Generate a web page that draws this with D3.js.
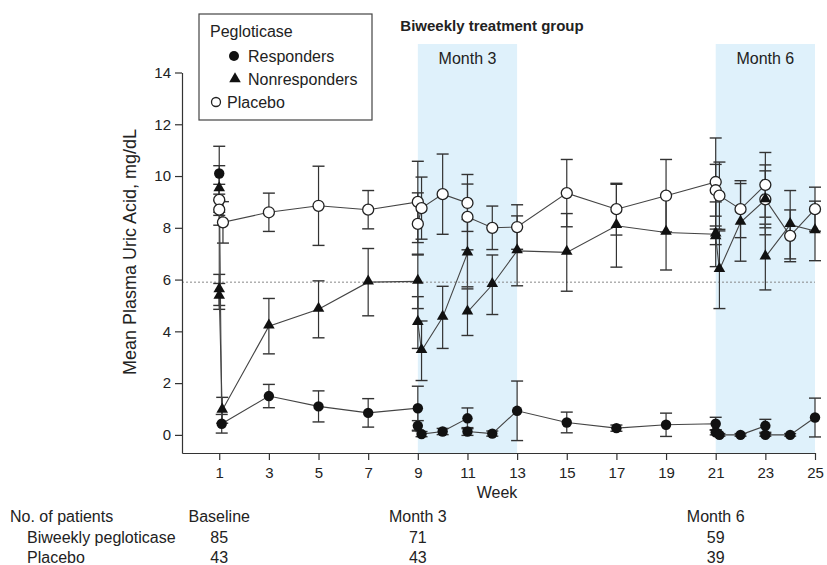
<!DOCTYPE html>
<html>
<head>
<meta charset="utf-8">
<script src="https://cdn.jsdelivr.net/npm/d3@7"></script>
<style>
	body { margin: 0; background: #fff; }
	svg text { font-family: "Liberation Sans", Arial, sans-serif; fill: #222; }
</style>
</head>
<body>
<svg id="chart" width="827" height="565"></svg>
<script>

// week ticks and y ticks
let weekTicks = [1, 3, 5, 7, 9, 11, 13, 15, 17, 19, 21, 23, 25];
let yTicks = [0, 2, 4, 6, 8, 10, 12, 14];

// pegloticase responders (filled circles)
let respWeeks = [1, 1.1, 3, 5, 7, 9, 9, 9.15, 10, 11, 11, 12, 13, 15, 17, 19, 21, 21, 21.15, 22, 23, 23, 24, 25];
let respMean = [10.1, 0.43, 1.5, 1.1, 0.85, 1.03, 0.35, 0.03, 0.13, 0.64, 0.13, 0.05, 0.93, 0.48, 0.26, 0.39, 0.43, 0.1, 0.0, 0.0, 0.35, 0.0, 0.0, 0.67];
let respErr = [1.05, 0.36, 0.45, 0.6, 0.55, 0.85, 0.2, 0.1, 0.12, 0.4, 0.15, 0.1, 1.15, 0.4, 0.12, 0.45, 0.25, 0.1, 0.05, 0.05, 0.25, 0.05, 0.05, 0.75];

// pegloticase nonresponders (filled triangles)
let nonWeeks = [1, 1, 1, 1.12, 3, 5, 7, 9, 9, 9.15, 10, 11, 11, 12, 13, 15, 17, 19, 21, 21, 21.15, 22, 23, 23, 24, 25];
let nonMean = [9.5, 5.6, 5.35, 0.95, 4.2, 4.85, 5.9, 5.93, 4.34, 3.25, 4.54, 7.02, 4.74, 5.8, 7.11, 7.05, 8.08, 7.82, 7.75, 7.65, 6.38, 8.21, 9.08, 6.87, 8.12, 7.88];
let nonErr = [0.9, 0.6, 0.5, 0.5, 1.07, 1.1, 1.3, 1.05, 1.0, 1.15, 1.2, 1.3, 0.9, 1.15, 1.35, 1.5, 1.6, 1.45, 1.25, 0.3, 1.5, 1.5, 1.35, 1.27, 1.32, 1.15];

// placebo (open circles)
let plaWeeks = [1, 1, 1.15, 3, 5, 7, 9, 9, 9.15, 10, 11, 11, 12, 13, 15, 17, 19, 21, 21, 21.15, 22, 23, 23, 24, 25];
let plaMean = [9.08, 8.7, 8.21, 8.6, 8.85, 8.7, 9.0, 8.15, 8.76, 9.3, 8.96, 8.42, 8.0, 8.03, 9.34, 8.72, 9.24, 9.77, 9.45, 9.24, 8.72, 9.66, 9.1, 7.69, 8.72];
let plaErr = [0.6, 0.6, 0.8, 0.74, 1.53, 0.74, 1.57, 1.2, 1.2, 1.55, 1.1, 1.27, 0.84, 0.86, 1.3, 1.0, 1.4, 1.7, 1.0, 1.3, 1.1, 1.25, 1.1, 1.0, 0.85];

// shaded windows and threshold
let windows = [{ from: 9, to: 13, label: 'Month 3' }, { from: 21, to: 25, label: 'Month 6' }];
let threshold = 5.9;

// patient table
let tableCols = [{ week: 1, head: 'Baseline' }, { week: 9, head: 'Month 3' }, { week: 21, head: 'Month 6' }];
let tableRows = [
	{ name: 'Biweekly pegloticase', vals: [85, 71, 59] },
	{ name: 'Placebo', vals: [43, 43, 39] }
];

let svg = d3.select('#chart');

let xScale = d3.scaleLinear().domain([-0.5, 25]).range([182, 815]);
let yScale = d3.scaleLinear().domain([-0.7, 14]).range([453, 72.5]);

// shaded windows
windows.forEach(w => {
	svg.append('rect')
		.attr('x', xScale(w.from))
		.attr('y', yScale(15.1))
		.attr('width', xScale(w.to) - xScale(w.from))
		.attr('height', yScale(-0.7) - yScale(15.1))
		.attr('fill', '#dff1fb');
	svg.append('text')
		.attr('x', (xScale(w.from) + xScale(w.to)) / 2)
		.attr('y', 64)
		.attr('text-anchor', 'middle')
		.style('font-size', '16px')
		.text(w.label);
});

// dotted threshold
svg.append('line')
	.attr('x1', xScale(-0.5)).attr('x2', xScale(25))
	.attr('y1', yScale(threshold)).attr('y2', yScale(threshold))
	.attr('stroke', '#888').attr('stroke-width', 1)
	.attr('stroke-dasharray', '2,2');

// axes
let yAxis = svg.append('g')
	.attr('transform', `translate(${xScale(-0.5)},0)`)
	.call(d3.axisLeft(yScale).tickValues(yTicks).tickSize(7).tickSizeOuter(0).tickPadding(4));
let xAxis = svg.append('g')
	.attr('transform', `translate(0,${yScale(-0.7)})`)
	.call(d3.axisBottom(xScale).tickValues(weekTicks).tickSize(7).tickSizeOuter(0).tickPadding(7));
[yAxis, xAxis].forEach(a => {
	a.selectAll('path, line').attr('stroke', '#333').attr('stroke-width', 1.2);
	a.selectAll('text').style('font-size', '15px').style('font-family', '"Liberation Sans", Arial, sans-serif').attr('fill', '#222');
});

svg.append('text')
	.attr('transform', 'translate(136,252) rotate(-90)')
	.attr('text-anchor', 'middle')
	.style('font-size', '18px')
	.text('Mean Plasma Uric Acid, mg/dL');

svg.append('text')
	.attr('x', 497).attr('y', 498)
	.attr('text-anchor', 'middle')
	.style('font-size', '16px')
	.text('Week');

svg.append('text')
	.attr('x', 492).attr('y', 31)
	.attr('text-anchor', 'middle')
	.style('font-size', '15px')
	.style('font-weight', 'bold')
	.text('Biweekly treatment group');

// series
function toPoints(weeks, mean, err) {
	return weeks.map((w, i) => ({ w: w, m: mean[i], e: err[i] }));
}
let series = [
	{ key: 'pla', pts: toPoints(plaWeeks, plaMean, plaErr) },
	{ key: 'non', pts: toPoints(nonWeeks, nonMean, nonErr) },
	{ key: 'resp', pts: toPoints(respWeeks, respMean, respErr) }
];

let line = d3.line().x(d => xScale(d.w)).y(d => yScale(d.m));

// error bars
series.forEach(s => {
	let g = svg.append('g');
	s.pts.forEach(p => {
		let cx = xScale(p.w);
		let y1 = yScale(p.m + p.e), y2 = yScale(p.m - p.e);
		g.append('line').attr('x1', cx).attr('x2', cx).attr('y1', y1).attr('y2', y2)
			.attr('stroke', '#333').attr('stroke-width', 1.2);
		[y1, y2].forEach(yy => g.append('line')
			.attr('x1', cx - 6).attr('x2', cx + 6).attr('y1', yy).attr('y2', yy)
			.attr('stroke', '#333').attr('stroke-width', 1.4));
	});
});

// connecting lines
series.forEach(s => {
	svg.append('path')
		.attr('d', line(s.pts))
		.attr('fill', 'none')
		.attr('stroke', '#444')
		.attr('stroke-width', 1.1);
});

// markers
let tri = d3.symbol().type(d3.symbolTriangle).size(58);
series.forEach(s => {
	let g = svg.append('g');
	if (s.key == 'non') {
		g.selectAll('path').data(s.pts).join('path')
			.attr('d', tri)
			.attr('transform', d => `translate(${xScale(d.w)},${yScale(d.m) - 1})`)
			.attr('fill', '#111');
	} else if (s.key == 'resp') {
		g.selectAll('circle').data(s.pts).join('circle')
			.attr('cx', d => xScale(d.w)).attr('cy', d => yScale(d.m)).attr('r', 5.2)
			.attr('fill', '#111');
	} else {
		g.selectAll('circle').data(s.pts).join('circle')
			.attr('cx', d => xScale(d.w)).attr('cy', d => yScale(d.m)).attr('r', 5.5)
			.attr('fill', '#fff').attr('stroke', '#222').attr('stroke-width', 1.3);
	}
});

// legend
let lg = svg.append('g');
lg.append('rect').attr('x', 199).attr('y', 14).attr('width', 173).attr('height', 106)
	.attr('fill', '#fff').attr('stroke', '#444').attr('stroke-width', 1.2);
lg.append('text').attr('x', 210).attr('y', 37).style('font-size', '16px').text('Pegloticase');
lg.append('circle').attr('cx', 234).attr('cy', 56).attr('r', 5).attr('fill', '#111');
lg.append('text').attr('x', 248).attr('y', 62).style('font-size', '16px').text('Responders');
lg.append('path').attr('d', tri).attr('transform', 'translate(235,79)').attr('fill', '#111');
lg.append('text').attr('x', 248).attr('y', 85).style('font-size', '16px').text('Nonresponders');
lg.append('circle').attr('cx', 216).attr('cy', 102).attr('r', 4.5)
	.attr('fill', '#fff').attr('stroke', '#222').attr('stroke-width', 1.3);
lg.append('text').attr('x', 227).attr('y', 108).style('font-size', '16px').text('Placebo');

// patient table
svg.append('text').attr('x', 10).attr('y', 522).style('font-size', '16px').text('No. of patients');
tableCols.forEach(c => svg.append('text')
	.attr('x', xScale(c.week)).attr('y', 522)
	.attr('text-anchor', 'middle').style('font-size', '16px').text(c.head));
tableRows.forEach((r, i) => {
	let yy = 543 + i * 20;
	svg.append('text').attr('x', 27).attr('y', yy).style('font-size', '16px').text(r.name);
	r.vals.forEach((v, j) => svg.append('text')
		.attr('x', xScale(tableCols[j].week)).attr('y', yy)
		.attr('text-anchor', 'middle').style('font-size', '16px').text(v));
});
</script>
</body>
</html>
